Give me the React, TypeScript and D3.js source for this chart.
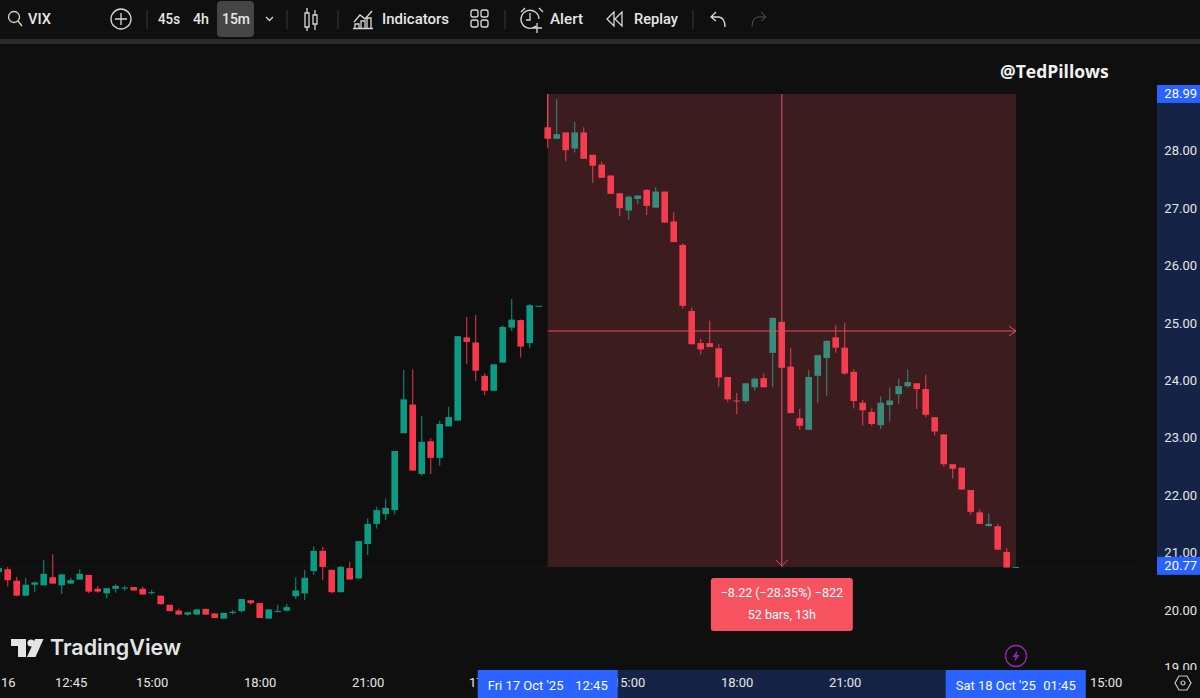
import React, { useEffect, useRef } from 'react';
import * as d3 from 'd3';

// 15m VIX bars, oldest first
const opens = [20.66,20.71,20.51,20.25,20.44,20.43,20.57,20.43,20.46,20.53,
  20.61,20.37,20.29,20.37,20.38,20.40,20.37,20.30,20.25,20.09,
  19.99,19.92,19.92,20.02,19.94,19.85,19.95,19.98,20.17,20.12,
  19.85,19.97,19.99,20.24,20.29,20.68,21.03,20.70,20.31,20.73,
  20.55,21.15,21.50,21.67,21.74,23.08,23.58,22.37,22.94,22.65,
  23.20,23.30,24.75,24.66,24.08,23.82,24.31,24.92,25.05,24.65,
  25.30,28.41,28.21,28.32,28.04,28.32,27.93,27.76,27.57,27.26,
  26.96,27.16,27.32,27.01,27.29,26.77,26.36,25.21,24.65,24.65,
  24.56,24.06,23.65,23.64,23.88,24.04,24.48,25.02,24.24,23.34,
  23.14,24.08,24.39,24.75,24.57,24.15,23.61,23.45,23.22,23.57,
  23.76,23.90,23.95,23.85,23.36,23.06,22.54,22.48,22.09,21.70,
  21.46,21.46,21.01,20.75];
const closes = [20.73,20.52,20.25,20.44,20.48,20.63,20.46,20.62,20.52,20.63,
  20.32,20.32,20.38,20.42,20.39,20.34,20.27,20.31,20.10,19.98,
  19.92,19.96,20.01,19.92,19.86,19.95,19.97,20.19,20.12,19.86,
  20.01,19.98,20.05,20.34,20.56,21.03,20.75,20.31,20.75,20.53,
  21.20,21.50,21.74,21.78,22.77,23.67,22.43,22.93,22.65,23.24,
  23.36,24.77,24.67,24.17,23.82,24.28,24.93,25.06,24.59,25.31,
  25.30,28.21,28.29,28.01,28.32,27.86,27.74,27.53,27.25,27.00,
  27.20,27.22,27.04,27.29,26.75,26.41,25.30,24.63,24.54,24.58,
  24.05,23.67,23.64,23.95,24.03,23.88,25.09,24.22,23.43,23.21,
  24.06,24.44,24.69,24.57,24.12,23.64,23.48,23.24,23.61,23.65,
  23.90,23.97,23.85,23.40,23.11,22.54,22.46,22.10,21.71,21.50,
  21.50,21.05,20.74,20.75];
const highs = [20.77,20.75,20.58,20.56,20.49,20.87,20.97,20.63,20.56,20.71,
  20.61,20.42,20.38,20.45,20.42,20.40,20.41,20.35,20.25,20.09,
  20.02,19.96,20.01,20.02,19.95,19.95,20.00,20.19,20.17,20.12,
  20.01,20.09,20.11,20.57,20.70,21.11,21.10,20.70,20.77,20.84,
  21.20,21.60,21.80,21.94,22.77,24.18,24.19,23.38,22.99,23.30,
  23.54,24.77,25.11,25.14,24.12,24.28,24.96,25.42,25.06,25.33,
  25.30,28.99,28.90,28.32,28.50,28.41,27.93,27.81,27.57,27.26,
  27.22,27.22,27.33,27.37,27.29,26.93,26.39,25.27,24.72,25.04,
  24.63,24.06,23.78,23.95,24.05,24.12,25.09,25.02,24.56,23.50,
  24.18,24.44,24.69,24.96,25.01,24.20,23.66,23.51,23.72,23.87,
  24.03,24.19,23.95,24.10,23.36,23.06,22.54,22.48,22.09,21.75,
  21.68,21.50,21.08,20.75];
const lows = [20.63,20.41,20.24,20.25,20.31,20.43,20.46,20.28,20.46,20.53,
  20.29,20.30,20.20,20.30,20.34,20.34,20.27,20.27,20.10,19.98,
  19.92,19.90,19.92,19.92,19.86,19.85,19.92,19.96,20.09,19.86,
  19.85,19.97,19.97,20.19,20.17,20.61,20.52,20.29,20.31,20.53,
  20.55,20.96,21.42,21.57,21.67,23.08,22.43,22.34,22.37,22.51,
  23.20,23.30,24.29,23.99,23.74,23.82,24.31,24.86,24.40,24.56,
  25.30,28.05,28.21,27.82,27.97,27.86,27.44,27.53,27.25,26.86,
  26.80,27.07,26.88,27.01,26.75,26.41,25.25,24.63,24.45,24.58,
  23.89,23.62,23.41,23.60,23.82,23.88,23.88,24.22,23.43,23.14,
  23.14,23.61,23.73,24.48,24.10,23.51,23.21,23.21,23.15,23.28,
  23.59,23.87,23.50,23.36,23.04,22.50,22.29,22.09,21.66,21.50,
  21.46,21.05,20.74,20.75];

const priceTicks = [19, 20, 21, 22, 23, 24, 25, 26, 27, 28];
const timeTickBars = [1, 8, 17, 29, 41, 53, 70, 82, 94, 123];
const timeTickLabels = ['16', '12:45', '15:00', '18:00', '21:00', '17', '15:00', '18:00', '21:00', '15:00'];

const startBar = 61, endBar = 113;
const startPrice = 28.99, endPrice = 20.77;

const BG = '#0f0f0f', RED = '#f7384c', GREEN = '#0b9b83', SOFT_RED = '#f7525f';
const BLUE = '#2962ff', RANGE_BLUE = '#152446', TEXT = '#e6e6e6';
const FONT = 'Roboto, sans-serif';

export default function App() {
  const ref = useRef<SVGSVGElement | null>(null);

  useEffect(() => {
    document.body.style.margin = '0';
    document.body.style.background = BG;
    const svg = d3.select(ref.current);
    svg.selectAll('*').remove();
    const width = 1200, height = 698;
    svg.attr('viewBox', `0 0 ${width} ${height}`).style('font-family', FONT);

    const x = d3.scaleLinear().domain([0, 1]).range([-1.3, 7.7]);
    const y = d3.scaleLinear().domain([20, 28]).range([610, 150.8]);
    const bars = d3.range(opens.length);
    const colour = (i: number) => (closes[i] >= opens[i] ? GREEN : RED);

    svg.append('rect').attr('width', width).attr('height', height).attr('fill', BG);

    // faint last-price line
    svg.append('line').attr('x1', 0).attr('x2', 1140).attr('y1', y(endPrice) + 1).attr('y2', y(endPrice) + 1)
      .attr('stroke', '#191919');

    // candles
    const wickBars = svg.append('g');
    wickBars.selectAll('line').data(bars).join('line')
      .attr('x1', d => x(d)).attr('x2', d => x(d))
      .attr('y1', d => y(highs[d])).attr('y2', d => y(lows[d]))
      .attr('stroke', colour).attr('stroke-width', 1.2).attr('stroke-opacity', 0.8);
    const bodies = svg.append('g');
    bodies.selectAll('rect').data(bars).join('rect')
      .attr('x', d => x(d) - 3.3).attr('width', 6.6)
      .attr('y', d => y(Math.max(opens[d], closes[d])))
      .attr('height', d => Math.max(1, Math.abs(y(opens[d]) - y(closes[d]))))
      .attr('fill', colour);

    // measure box
    const bx0 = x(startBar), bx1 = x(endBar) + 0.3;
    const by0 = y(startPrice), by1 = y(endPrice) + 1;
    const bxm = (bx0 + bx1) / 2, bym = 331;
    svg.append('rect').attr('x', bx0).attr('y', by0).attr('width', bx1 - bx0).attr('height', by1 - by0)
      .attr('fill', SOFT_RED).attr('opacity', 0.2);
    const cross = svg.append('g').attr('stroke', '#e2505c').attr('fill', 'none').attr('stroke-width', 1);
    cross.append('line').attr('x1', bx0).attr('x2', bx1).attr('y1', bym).attr('y2', bym);
    cross.append('line').attr('x1', bxm).attr('x2', bxm).attr('y1', by0).attr('y2', by1);
    cross.append('line').attr('x1', bx0).attr('x2', bx0).attr('y1', by0).attr('y2', y(28.4));
    cross.append('path').attr('d', `M${bx1 - 7},${bym - 5}L${bx1},${bym}L${bx1 - 7},${bym + 5}`);
    cross.append('path').attr('d', `M${bxm - 6},${by1 - 7}L${bxm},${by1 - 1}L${bxm + 6},${by1 - 7}`);

    svg.append('rect').attr('x', bxm - 71).attr('y', 578).attr('width', 142).attr('height', 53).attr('rx', 3)
      .attr('fill', SOFT_RED);
    const change = endPrice - startPrice;
    const changeText = `−${Math.abs(change).toFixed(2)} (−${(Math.abs(change) / startPrice * 100).toFixed(2)}%) −${Math.round(Math.abs(change) * 100)}`;
    svg.append('text').attr('x', bxm).attr('y', 597).attr('text-anchor', 'middle').attr('fill', '#fff')
      .attr('font-size', 12.5).text(changeText);
    svg.append('text').attr('x', bxm).attr('y', 619).attr('text-anchor', 'middle').attr('fill', '#fff')
      .attr('font-size', 12.5).text(`${endBar - startBar} bars, 13h`);

    // price axis
    svg.append('rect').attr('x', 1157).attr('y', y(startPrice) - 9).attr('width', 43)
      .attr('height', y(endPrice) - y(startPrice) + 18).attr('fill', RANGE_BLUE);
    const yAxis = svg.append('g').attr('transform', 'translate(1197,0)')
      .call(d3.axisLeft(y).tickValues(priceTicks).tickFormat(d3.format('.2f')).tickSize(0).tickPadding(0));
    yAxis.select('.domain').remove();
    yAxis.selectAll('text').attr('fill', TEXT).attr('font-size', 13).attr('font-family', FONT);

    [startPrice, endPrice].forEach(p => {
      svg.append('rect').attr('x', 1157).attr('y', y(p) - 9).attr('width', 43).attr('height', 18).attr('fill', BLUE);
      svg.append('text').attr('x', 1197).attr('y', y(p) + 4.5).attr('text-anchor', 'end').attr('fill', '#fff')
        .attr('font-size', 13).text(p.toFixed(2));
    });

    // time axis
    svg.append('rect').attr('x', 0).attr('y', 670).attr('width', width).attr('height', 28).attr('fill', BG);
    svg.append('rect').attr('x', 478).attr('y', 670).attr('width', 608).attr('height', 28).attr('fill', RANGE_BLUE);
    const xAxis = svg.append('g').attr('transform', 'translate(0,676)')
      .call(d3.axisBottom(x).tickValues(timeTickBars).tickFormat((_, i) => timeTickLabels[i]).tickSize(0).tickPadding(2));
    xAxis.select('.domain').remove();
    xAxis.selectAll('text').attr('fill', TEXT).attr('font-size', 13).attr('font-family', FONT);

    const dateTag = (bar: number, day: string, time: string) => {
      const cx = x(bar);
      svg.append('rect').attr('x', cx - 70).attr('y', 670).attr('width', 140).attr('height', 28).attr('fill', BLUE);
      svg.append('text').attr('x', cx - 60).attr('y', 690).attr('fill', '#fff').attr('font-size', 13).text(day);
      svg.append('text').attr('x', cx + 60).attr('y', 690).attr('text-anchor', 'end').attr('fill', '#fff').attr('font-size', 13).text(time);
    };
    dateTag(startBar, "Fri 17 Oct '25", '12:45');
    dateTag(endBar, "Sat 18 Oct '25", '01:45');

    // watermark and logo
    svg.append('text').attr('x', 1000).attr('y', 78).attr('fill', '#f2f2f2').attr('font-size', 17.5)
      .attr('font-weight', 700).attr('font-family', '"Open Sans", sans-serif').text('@TedPillows');
    const logo = svg.append('g').attr('fill', '#e4e4e4');
    logo.append('path').attr('d', 'M11,639H26V657H18V646H11Z');
    logo.append('circle').attr('cx', 31).attr('cy', 643).attr('r', 3.6);
    logo.append('path').attr('d', 'M35,639H43.5L35.5,657H27Z');
    svg.append('text').attr('x', 50).attr('y', 655).attr('fill', '#e4e4e4').attr('font-size', 22)
      .attr('font-weight', 600).attr('font-family', 'Inter, sans-serif').attr('textLength', 131)
      .attr('lengthAdjust', 'spacingAndGlyphs').text('TradingView');

    // lightning badge and settings
    const bolt = svg.append('g').attr('transform', 'translate(1016,656)');
    bolt.append('circle').attr('r', 10.5).attr('fill', 'none').attr('stroke', '#8e2aa3').attr('stroke-width', 1.4);
    bolt.append('path').attr('d', 'M1.5,-6L-3.5,1H-0.5L-1.5,6L3.5,-1H0.5Z').attr('fill', '#8e2aa3');
    const gear = svg.append('g').attr('transform', 'translate(1183,683)').attr('fill', 'none').attr('stroke', '#c8c8c8').attr('stroke-width', 1.2);
    gear.append('path').attr('d', 'M-4,-7H4L8,0L4,7H-4L-8,0Z');
    gear.append('circle').attr('r', 2);

    // toolbar
    svg.append('rect').attr('x', 0).attr('y', 39).attr('width', width).attr('height', 5).attr('fill', '#2a2a2a');
    svg.append('rect').attr('x', 217).attr('y', 1).attr('width', 37).attr('height', 36).attr('rx', 4).attr('fill', '#454545');
    const tool = svg.append('g').attr('fill', TEXT).attr('font-size', 15).attr('font-weight', 500);
    const words: [string, number, number][] = [['VIX', 28, 23], ['45s', 158, 22], ['4h', 193, 16], ['15m', 222, 28],
      ['Indicators', 382, 67], ['Alert', 550, 33], ['Replay', 634, 44]];
    words.forEach(([t, tx, tl]) => {
      tool.append('text').attr('x', tx).attr('y', 24).attr('textLength', tl).attr('lengthAdjust', 'spacingAndGlyphs').text(t);
    });
    const icons = svg.append('g').attr('fill', 'none').attr('stroke', '#d8d8d8').attr('stroke-width', 1.3);
    d3.range(5).forEach(k => {
      const sx = [147, 287, 338, 505, 693][k];
      svg.append('line').attr('x1', sx).attr('x2', sx).attr('y1', 10).attr('y2', 29).attr('stroke', '#3a3a3a');
    });
    icons.append('circle').attr('cx', 14).attr('cy', 17).attr('r', 5.5);
    icons.append('path').attr('d', 'M18,21L22,26');
    icons.append('circle').attr('cx', 121).attr('cy', 19).attr('r', 10);
    icons.append('path').attr('d', 'M121,13V25M115,19H127');
    icons.append('path').attr('d', 'M266,17L269.5,20.5L273,17');
    icons.append('path').attr('d', 'M308,15H312V29H308ZM310,10V15M310,29V33M316,17H320V26H316ZM318,12V17M318,26V32').attr('transform', 'translate(-3,-2)');
    icons.append('path').attr('d', 'M354,22L360,15L365,19L372,11M355,28V24H359V28M361,28V21H365V28M367,28V18H371V28M353,28.5H373');
    d3.range(4).forEach(k => {
      icons.append('rect').attr('x', 471 + (k % 2) * 10).attr('y', 10 + Math.floor(k / 2) * 10).attr('width', 7).attr('height', 7).attr('rx', 2);
    });
    icons.append('path').attr('d', 'M536,26A9,9,0,1,1,539,19M530,13V20H526M537,23V33M532,28H542M521,12L525,8M539,8L543,12');
    icons.append('path').attr('d', 'M614,12L607,19L614,26ZM622,12L615,19L622,26Z');
    icons.append('path').attr('d', 'M716,12L711,17L716,21M711,17H719Q725,18 725,27');
    svg.append('path').attr('d', 'M761,12L766,17L761,21M766,17H758Q752,18 752,27').attr('fill', 'none').attr('stroke', '#555');
  }, []);

  return <svg ref={ref} width={1200} height={698} style={{ display: 'block', position: 'absolute', left: 0, top: 0 }} />;
}
